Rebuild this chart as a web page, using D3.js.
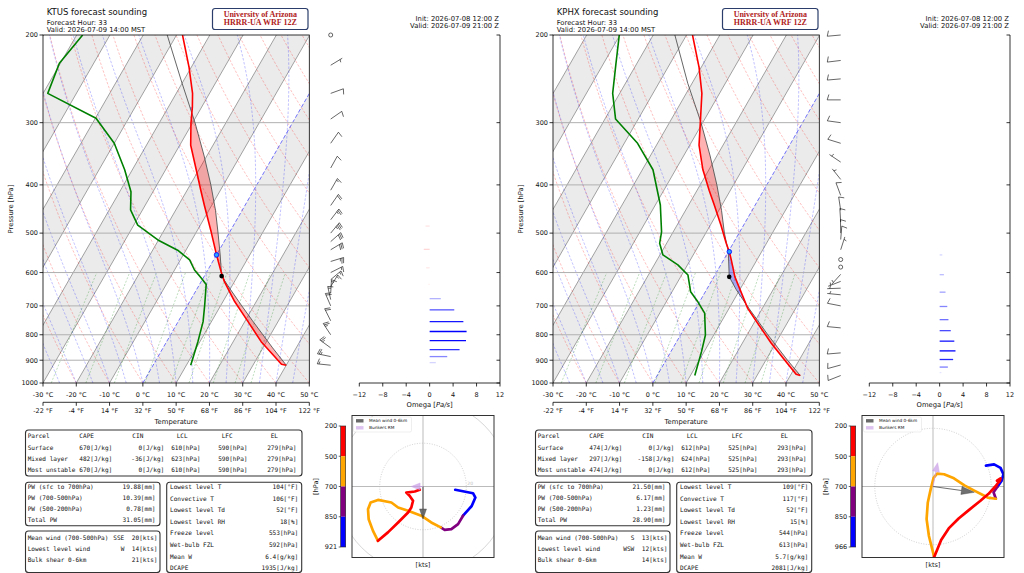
<!DOCTYPE html>
<html lang="en">
<head>
<meta charset="UTF-8">
<title>HRRR-UA forecast soundings</title>
<script src="https://d3js.org/d3.v7.min.js"></script>
<style>
    body { margin: 0; background: #fff; }
    svg { display: block; }
    text { font-family: "DejaVu Sans", sans-serif; fill: #111; }
    .mono { font-family: "DejaVu Sans Mono", monospace; }
</style>
</head>
<body>
<svg id="chart" width="1024" height="573"></svg>
<script>
// ---------------- KTUS (left) ----------------
const tusTempP = [921, 917, 885, 826, 753, 686, 626, 598, 553, 497, 439, 410, 373, 333, 301, 279, 262, 232, 200];
const tusTempT = [40.0, 38.4, 35.0, 28.4, 21.0, 13.5, 7.0, 4.3, 0.0, -5.6, -12.3, -15.9, -20.8, -26.7, -30.4, -32.8, -35.1, -40.7, -48.2];
const tusDewP = [921, 826, 753, 697, 634, 616, 593, 566, 541, 516, 482, 449, 413, 373, 330, 294, 262, 228, 200];
const tusDewT = [11.3, 9.4, 7.5, 5.1, 2.0, -0.5, -4.0, -7.2, -12.5, -20.2, -28.8, -33.6, -36.6, -42.3, -50.0, -59.8, -78.6, -80.3, -78.2];
const tusParcelP = [921, 850, 750, 700, 650, 610, 553, 500, 450, 400, 350, 300, 250, 200];
const tusParcelT = [40.0, 32.9, 22.2, 16.4, 10.3, 5.2, 1.1, -3.3, -8.0, -13.8, -20.8, -29.3, -40.0, -52.8];
const tusLcl = [610, 5.2];
const tusFrz = [553, 0.0];
const tusEl = 279;

const tusWindP = [921, 900, 885, 870, 850, 835, 800, 750, 700, 680, 660, 640, 620, 600, 585, 570, 555, 540, 520, 500, 470, 440, 410, 370, 330, 295, 262, 230, 200];
const tusWindU = [14.9, 23.1, 24.2, 22.5, 18.5, 16.2, 13.1, 10.0, 8.2, 3.8, -0.8, -6.9, -11.5, -14.6, -20.8, -24.2, -25.4, -25.1, -23.1, -20.8, -16.2, -11.5, -6.9, -5.4, -4.6, -6.2, -7.7, -3.8, -1.5];
const tusWindV = [-1.5, -3.1, -5.1, -9.0, -13.5, -17.4, -19.7, -20.0, -18.9, -16.6, -13.5, -11.2, -9.7, -7.4, -6.2, -7.4, -10.5, -15.1, -20.5, -25.1, -21.2, -16.6, -12.0, -9.7, -6.6, -4.3, -2.8, -2.3, -1.5];
const tusMeanWind = [0, -15];
const tusBunkers = [-5.5, 0];

const tusOmegaP = [910, 885, 857, 822, 788, 753, 713, 677, 634, 587, 539, 484];
const tusOmega = [1.05, 3.0, 5.1, 6.2, 6.3, 5.75, 4.2, 1.9, -0.2, -0.6, -1.0, -0.7];

const tusParcelRows = [
    ["Surface", "670[J/kg]", "0[J/kg]", "610[hPa]", "590[hPa]", "279[hPa]"],
    ["Mixed layer", "482[J/kg]", "-36[J/kg]", "623[hPa]", "590[hPa]", "279[hPa]"],
    ["Most unstable", "670[J/kg]", "0[J/kg]", "610[hPa]", "590[hPa]", "279[hPa]"]
];
const tusPwRows = [["PW (sfc to 700hPa)", "19.88[mm]"], ["PW (700-500hPa)", "10.39[mm]"], ["PW (500-200hPa)", "0.78[mm]"], ["Total PW", "31.05[mm]"]];
const tusWindRows = [["Mean wind (700-500hPa)", "SSE", "20[kts]"], ["Lowest level wind", "W", "14[kts]"], ["Bulk shear 0-6km", "", "21[kts]"]];
const tusThermoRows = [["Lowest level T", "104[°F]"], ["Convective T", "106[°F]"], ["Lowest level Td", "52[°F]"], ["Lowest level RH", "18[%]"],
    ["Freeze level", "553[hPa]"], ["Wet-bulb FZL", "592[hPa]"], ["Mean W", "6.4[g/kg]"], ["DCAPE", "1935[J/kg]"]];

// ---------------- KPHX (right) ----------------
const phxTempP = [966, 960, 899, 832, 759, 708, 612, 566, 545, 524, 482, 439, 410, 373, 333, 301, 262, 232, 200];
const phxTempT = [43.0, 41.5, 35.6, 28.7, 21.2, 15.6, 6.3, 2.3, 0.3, -2.1, -6.8, -12.3, -16.4, -21.8, -27.2, -30.6, -35.3, -40.7, -48.2];
const phxDewP = [966, 865, 801, 724, 687, 656, 607, 579, 553, 524, 497, 439, 373, 330, 295, 262, 228, 200];
const phxDewT = [11.3, 9.2, 7.5, 3.5, -0.5, -4.4, -8.1, -12.9, -19.1, -22.1, -23.5, -28.5, -36.8, -46.0, -56.8, -62.1, -66.3, -70.2];
const phxParcelP = [966, 900, 850, 800, 750, 700, 650, 612, 545, 500, 450, 400, 350, 300, 250, 200];
const phxParcelT = [43.0, 36.5, 31.5, 26.2, 20.8, 15.0, 9.0, 4.6, 0.0, -4.4, -9.2, -15.0, -22.0, -30.5, -41.3, -53.5];
const phxLcl = [612, 4.6];
const phxFrz = [545, 0.3];
const phxEl = 293;

const phxWindP = [966, 945, 920, 895, 870, 850, 775, 700, 685, 665, 645, 625, 605, 585, 565, 550, 540, 530, 515, 500, 475, 450, 420, 390, 360, 330, 300, 270, 245, 225, 200];
const phxWindU = [9.1, 10.5, 11.6, 12.1, 11.8, 11.1, 10.4, 10.8, 9.4, 7.1, 5.4, 3.6, 1.9, 0.7, 0.1, -0.4, -0.9, -1.1, -0.7, 0.2, 0.7, 1.4, 2.7, 4.4, 6.1, 8.1, 9.5, 10.7, 11.5, 11.6, 11.0];
const phxWindV = [3.6, 3.8, 3.2, 2.1, 1.0, 0.0, -1.0, -2.1, -1.9, -0.7, 0.2, 1.4, 2.1, 2.2, 1.5, -0.5, -2.8, -5.6, -8.5, -12.1, -10.9, -9.2, -7.2, -5.5, -4.1, -2.5, -1.3, 0.0, 1.0, 1.4, 1.0];
const phxMeanWind = [7.1, -1.0];
const phxBunkers = [0.8, 4.1];

const phxOmegaP = [953, 929, 897, 862, 824, 785, 746, 702, 657, 606, 553];
const phxOmega = [0.3, 1.4, 2.3, 2.7, 2.5, 1.9, 1.5, 1.3, 1.0, 0.73, 0.45];

const phxParcelRows = [
    ["Surface", "474[J/kg]", "0[J/kg]", "612[hPa]", "525[hPa]", "293[hPa]"],
    ["Mixed layer", "297[J/kg]", "-158[J/kg]", "624[hPa]", "525[hPa]", "293[hPa]"],
    ["Most unstable", "474[J/kg]", "0[J/kg]", "612[hPa]", "525[hPa]", "293[hPa]"]
];
const phxPwRows = [["PW (sfc to 700hPa)", "21.50[mm]"], ["PW (700-500hPa)", "6.17[mm]"], ["PW (500-200hPa)", "1.23[mm]"], ["Total PW", "28.90[mm]"]];
const phxWindRows = [["Mean wind (700-500hPa)", "S", "13[kts]"], ["Lowest level wind", "WSW", "12[kts]"], ["Bulk shear 0-6km", "", "14[kts]"]];
const phxThermoRows = [["Lowest level T", "109[°F]"], ["Convective T", "117[°F]"], ["Lowest level Td", "52[°F]"], ["Lowest level RH", "15[%]"],
    ["Freeze level", "544[hPa]"], ["Wet-bulb FZL", "613[hPa]"], ["Mean W", "5.7[g/kg]"], ["DCAPE", "2081[J/kg]"]];

// shared labels
const parcelHeader = ["Parcel", "CAPE", "CIN", "LCL", "LFC", "EL"];
const pressureTicks = [200, 300, 400, 500, 600, 700, 800, 900, 1000];
const tempTicks = [-30, -20, -10, 0, 10, 20, 30, 40, 50];
const omegaTicks = [-12, -8, -4, 0, 4, 8, 12];
const hodoLayers = [
    { top: 850, bot: 1100, color: "#0000ff" },
    { top: 700, bot: 850, color: "#800080" },
    { top: 500, bot: 700, color: "#ffa500" },
    { top: 100, bot: 500, color: "#ff0000" }
];

const svg = d3.select("#chart");
svg.append("rect").attr("width", 1024).attr("height", 573).attr("fill", "#fff");

const Y_TOP = 35, Y_BOT = 383, X_L = 43, X_R = 309.3, SKEW = 0.575;
const yP = d3.scaleLog().domain([1000, 200]).range([Y_BOT, Y_TOP]);

function interpLogP(P, T, p) {
    for (let i = 0; i < P.length - 1; i++) {
        if (p <= P[i] && p >= P[i + 1]) {
            const f = (Math.log(P[i]) - Math.log(p)) / (Math.log(P[i]) - Math.log(P[i + 1]));
            return T[i] + f * (T[i + 1] - T[i]);
        }
    }
    return NaN;
}

// moist adiabat from t0 (C) at 1000 hPa, background reference only
function moistAdiabat(t0) {
    const f = (pp, TT) => {
        const tc = TT - 273.15;
        const es = 6.112 * Math.exp(17.67 * tc / (tc + 243.5));
        const rs = 0.622 * es / (pp - es);
        return (287.04 * TT + 2.501e6 * rs) / (pp * (1005.7 + 2.501e6 * 2.501e6 * rs * 0.622 / (287.04 * TT * TT)));
    };
    const pts = [];
    let T = t0 + 273.15;
    for (let p = 1000; p >= 195; p -= 5) {
        pts.push([p, T - 273.15]);
        const k1 = f(p, T);
        const k2 = f(p - 2.5, T - k1 * 2.5);
        T -= k2 * 5;
    }
    return pts;
}

function drawSkewT(ox, st, id) {
    const g = svg.append("g");
    const xT = d3.scaleLinear().domain([-30, 50]).range([X_L + ox, X_R + ox]);
    const X = (t, p) => xT(t) + (Y_BOT - yP(p)) * SKEW;
    const clipId = "clip" + id;
    svg.append("clipPath").attr("id", clipId).append("rect")
        .attr("x", X_L + ox).attr("y", Y_TOP).attr("width", X_R - X_L).attr("height", Y_BOT - Y_TOP);
    const pg = g.append("g").attr("clip-path", `url(#${clipId})`);
    const line = d3.line().x(d => X(d[1], d[0])).y(d => yP(d[0]));

    // shaded isotherm bands
    d3.range(-100, 50, 20).forEach(t => {
        pg.append("path").attr("d", line([[1000, t], [1000, t + 10], [200, t + 10], [200, t]]) + "Z")
            .attr("fill", "#000").attr("fill-opacity", 0.08);
    });
    // isotherms
    d3.range(-100, 60, 10).filter(t => t !== 0).forEach(t => {
        pg.append("path").attr("d", line([[1000, t], [200, t]]))
            .attr("stroke", "#8a8a8a").attr("stroke-width", 0.8).attr("fill", "none");
    });
    // dry adiabats
    const pLevels = d3.range(1000, 195, -10);
    d3.range(-30, 170, 10).forEach(t0 => {
        const pts = pLevels.map(p => [p, (t0 + 273.15) * Math.pow(p / 1000, 0.2857) - 273.15]);
        pg.append("path").attr("d", line(pts)).attr("fill", "none")
            .attr("stroke", "#ff0000").attr("stroke-opacity", 0.38).attr("stroke-width", 0.65).attr("stroke-dasharray", "2.5,1.6");
    });
    // moist adiabats
    d3.range(-30, 55, 5).forEach(t0 => {
        pg.append("path").attr("d", line(moistAdiabat(t0))).attr("fill", "none")
            .attr("stroke", "#0000ff").attr("stroke-opacity", 0.38).attr("stroke-width", 0.65).attr("stroke-dasharray", "2.5,1.6");
    });
    // mixing ratio lines
    [0.4, 1, 2, 4, 7, 10, 16, 24, 32].forEach(w => {
        const pts = d3.range(1000, 595, -20).map(p => {
            const e = (w / 1000) * p / (0.622 + w / 1000);
            const a = Math.log(e / 6.112);
            return [p, 243.5 * a / (17.67 - a)];
        });
        pg.append("path").attr("d", line(pts)).attr("fill", "none")
            .attr("stroke", "#008000").attr("stroke-opacity", 0.4).attr("stroke-width", 0.65).attr("stroke-dasharray", "2,1.6");
    });
    // 0 C isotherm
    pg.append("path").attr("d", line([[1000, 0], [200, 0]])).attr("fill", "none")
        .attr("stroke", "#0000ff").attr("stroke-opacity", 0.6).attr("stroke-width", 0.9).attr("stroke-dasharray", "4,2");
    // isobars
    pressureTicks.slice(1, -1).forEach(p => {
        pg.append("line").attr("x1", X_L + ox).attr("x2", X_R + ox).attr("y1", yP(p)).attr("y2", yP(p))
            .attr("stroke", "#b0b0b0").attr("stroke-width", 1);
    });

    // CAPE / CIN shading between environment and parcel
    const sfc = st.parcelP[0];
    let grid = d3.range(sfc, st.el, -2).concat(st.tempP, st.parcelP, [st.el])
        .filter(p => p <= sfc && p >= st.el);
    grid = Array.from(new Set(grid)).sort((a, b) => b - a);
    const polys = [];
    let cur = null, prev = null;
    grid.forEach(p => {
        const te = interpLogP(st.tempP, st.tempT, p), tp = interpLogP(st.parcelP, st.parcelT, p);
        const d = tp - te, s = d >= 0 ? 1 : -1;
        if (!cur) cur = { s: s, a: [[p, te, tp]] };
        else if (s === cur.s) cur.a.push([p, te, tp]);
        else {
            const dPrev = prev[2] - prev[1];
            const f = dPrev / (dPrev - d);
            const pc = Math.exp(Math.log(prev[0]) + f * (Math.log(p) - Math.log(prev[0])));
            const tc = prev[1] + f * (te - prev[1]);
            cur.a.push([pc, tc, tc]);
            polys.push(cur);
            cur = { s: s, a: [[pc, tc, tc], [p, te, tp]] };
        }
        prev = [p, te, tp];
    });
    if (cur) polys.push(cur);
    polys.forEach(poly => {
        const pts = poly.a.map(d => [d[0], d[1]]).concat(poly.a.slice().reverse().map(d => [d[0], d[2]]));
        pg.append("path").attr("d", line(pts) + "Z")
            .attr("fill", poly.s > 0 ? "#ff0000" : "#0000ff").attr("fill-opacity", 0.3).attr("stroke", "none");
    });

    // profiles
    pg.append("path").attr("d", line(st.parcelP.map((p, i) => [p, st.parcelT[i]])))
        .attr("fill", "none").attr("stroke", "#555").attr("stroke-width", 0.9);
    pg.append("path").attr("d", line(st.tempP.map((p, i) => [p, st.tempT[i]])))
        .attr("fill", "none").attr("stroke", "#ff0000").attr("stroke-width", 1.6).attr("stroke-linejoin", "round");
    pg.append("path").attr("d", line(st.dewP.map((p, i) => [p, st.dewT[i]])))
        .attr("fill", "none").attr("stroke", "#008000").attr("stroke-width", 1.6).attr("stroke-linejoin", "round");
    g.append("circle").attr("cx", X(st.lcl[1], st.lcl[0])).attr("cy", yP(st.lcl[0])).attr("r", 2.3).attr("fill", "#000");
    g.append("circle").attr("cx", X(st.frz[1], st.frz[0])).attr("cy", yP(st.frz[0])).attr("r", 2.3)
        .attr("fill", "#2aa0ff").attr("stroke", "#0000ff").attr("stroke-width", 0.8);

    // frame
    g.append("rect").attr("x", X_L + ox).attr("y", Y_TOP).attr("width", X_R - X_L).attr("height", Y_BOT - Y_TOP)
        .attr("fill", "none").attr("stroke", "#000").attr("stroke-width", 0.8);

    // y axis
    pressureTicks.forEach(p => {
        g.append("line").attr("x1", X_L + ox - 3.5).attr("x2", X_L + ox).attr("y1", yP(p)).attr("y2", yP(p)).attr("stroke", "#000").attr("stroke-width", 0.8);
        g.append("text").attr("x", X_L + ox - 5).attr("y", yP(p) + 2.3).attr("text-anchor", "end").attr("font-size", 6.5).text(p);
    });
    g.append("text").attr("transform", `translate(${13 + ox},${(Y_TOP + Y_BOT) / 2}) rotate(-90)`)
        .attr("text-anchor", "middle").attr("font-size", 6.8).text("Pressure [hPa]");

    // x axes (Celsius and Fahrenheit)
    const yF = 402.3;
    g.append("line").attr("x1", X_L + ox).attr("x2", X_R + ox).attr("y1", yF).attr("y2", yF).attr("stroke", "#000").attr("stroke-width", 0.8);
    tempTicks.forEach(t => {
        const x = xT(t);
        g.append("line").attr("x1", x).attr("x2", x).attr("y1", Y_BOT).attr("y2", Y_BOT + 3.5).attr("stroke", "#000").attr("stroke-width", 0.8);
        g.append("text").attr("x", x).attr("y", 396.5).attr("text-anchor", "middle").attr("font-size", 6.5).text(`${t} °C`);
        g.append("line").attr("x1", x).attr("x2", x).attr("y1", yF).attr("y2", yF + 3.5).attr("stroke", "#000").attr("stroke-width", 0.8);
        g.append("text").attr("x", x).attr("y", 412.5).attr("text-anchor", "middle").attr("font-size", 6.5).text(`${Math.round(t * 9 / 5 + 32)} °F`);
    });
    g.append("text").attr("x", (X_L + X_R) / 2 + ox).attr("y", 423.5).attr("text-anchor", "middle").attr("font-size", 6.8).text("Temperature");
}

function drawBarb(g, bx, by, u, v) {
    const L = 13.5, H = 0.4 * L, W = 0.25 * L, S = 0.125 * L;
    const spd = Math.hypot(u, v);
    const r5 = Math.round(spd / 5) * 5;
    if (r5 < 5) {
        g.append("circle").attr("cx", bx).attr("cy", by).attr("r", 0.15 * L)
            .attr("fill", "none").attr("stroke", "#000").attr("stroke-width", 0.6);
        return;
    }
    const dx = -u / spd, dy = v / spd;
    const px = -dy, py = dx;
    const tx = bx + dx * L, ty = by + dy * L;
    let d = `M${bx},${by}L${tx},${ty}`;
    const nFull = Math.floor(r5 / 10), half = (r5 % 10) >= 5;
    let off = 0;
    for (let i = 0; i < nFull; i++) {
        const sx = tx - dx * off, sy = ty - dy * off;
        d += `M${sx},${sy}L${sx + px * H - dx * W / 2},${sy + py * H - dy * W / 2}`;
        off += S;
    }
    if (half) {
        if (nFull === 0) off = 1.5 * S;
        const sx = tx - dx * off, sy = ty - dy * off;
        d += `M${sx},${sy}L${sx + px * H / 2 - dx * W / 4},${sy + py * H / 2 - dy * W / 4}`;
    }
    g.append("path").attr("d", d).attr("fill", "none").attr("stroke", "#000").attr("stroke-width", 0.6);
}

function drawWindOmega(ox, st) {
    const g = svg.append("g");
    // barbs, thinned so they do not overlap
    let lastY = -100;
    st.windP.forEach((p, i) => {
        const y = yP(p);
        if (Math.abs(y - lastY) < 6) return;
        lastY = y;
        drawBarb(g, 330.7 + ox, y, st.windU[i], st.windV[i]);
    });
    // omega panel
    const xo = d3.scaleLinear().domain([-12, 12]).range([359.3 + ox, 500 + ox]);
    const maxAbs = d3.max(st.omega, d => Math.abs(d));
    st.omegaP.forEach((p, i) => {
        const w = st.omega[i];
        g.append("line").attr("x1", xo(0)).attr("x2", xo(w)).attr("y1", yP(p)).attr("y2", yP(p))
            .attr("stroke", w >= 0 ? "#0000ff" : "#ff0000").attr("stroke-width", 1.3)
            .attr("stroke-opacity", Math.max(0.08, Math.abs(w) / maxAbs));
    });
    g.append("line").attr("x1", 500 + ox).attr("x2", 500 + ox).attr("y1", Y_TOP).attr("y2", Y_BOT).attr("stroke", "#000").attr("stroke-width", 0.8);
    g.append("line").attr("x1", 359.3 + ox).attr("x2", 500 + ox).attr("y1", Y_BOT).attr("y2", Y_BOT).attr("stroke", "#000").attr("stroke-width", 0.8);
    pressureTicks.forEach(p => {
        g.append("line").attr("x1", 496.5 + ox).attr("x2", 500 + ox).attr("y1", yP(p)).attr("y2", yP(p)).attr("stroke", "#000").attr("stroke-width", 0.8);
    });
    omegaTicks.forEach(t => {
        g.append("line").attr("x1", xo(t)).attr("x2", xo(t)).attr("y1", Y_BOT).attr("y2", Y_BOT + 3.5).attr("stroke", "#000").attr("stroke-width", 0.8);
        g.append("text").attr("x", xo(t)).attr("y", 396.5).attr("text-anchor", "middle").attr("font-size", 6.5)
            .text(t < 0 ? "\u2212" + Math.abs(t) : t);
    });
    const lab = g.append("text").attr("x", xo(0)).attr("y", 406.5).attr("text-anchor", "middle").attr("font-size", 6.8);
    lab.append("tspan").text("Omega [");
    lab.append("tspan").attr("font-style", "italic").text("Pa/s");
    lab.append("tspan").text("]");
}

function arrow(g, x0, y0, x1, y1, color, op, hl, hw) {
    const len = Math.hypot(x1 - x0, y1 - y0), ux = (x1 - x0) / len, uy = (y1 - y0) / len;
    const bx = x1 - ux * hl, by = y1 - uy * hl;
    g.append("line").attr("x1", x0).attr("y1", y0).attr("x2", bx).attr("y2", by)
        .attr("stroke", color).attr("stroke-opacity", op).attr("stroke-width", 1.2);
    g.append("path").attr("d", `M${x1},${y1}L${bx - uy * hw / 2},${by + ux * hw / 2}L${bx + uy * hw / 2},${by - ux * hw / 2}Z`)
        .attr("fill", color).attr("fill-opacity", op).attr("stroke", color).attr("stroke-opacity", op).attr("stroke-width", 0.5);
}

function drawHodo(ox, st, id) {
    const g = svg.append("g");
    const bx = 352 + ox, by = 415.5, bw = 142, bh = 142;
    const cx = bx + bw / 2, cy = by + bh / 2, k = (bw / 2) / st.hodoR;
    const clipId = "hclip" + id;
    svg.append("clipPath").attr("id", clipId).append("rect").attr("x", bx).attr("y", by).attr("width", bw).attr("height", bh);
    const pg = g.append("g").attr("clip-path", `url(#${clipId})`);
    pg.append("line").attr("x1", bx).attr("x2", bx + bw).attr("y1", cy).attr("y2", cy).attr("stroke", "#aaa").attr("stroke-width", 0.8);
    pg.append("line").attr("x1", cx).attr("x2", cx).attr("y1", by).attr("y2", by + bh).attr("stroke", "#aaa").attr("stroke-width", 0.8);
    st.rings.forEach((r, i) => {
        pg.append("circle").attr("cx", cx).attr("cy", cy).attr("r", r * k).attr("fill", "none")
            .attr("stroke", i === 0 ? "#bbb" : "#c4c4c4").attr("stroke-width", 0.7)
            .attr("stroke-dasharray", i === 0 ? "1,1.5" : null);
    });
    if (st.ringLabel) {
        pg.append("text").attr("x", cx + st.rings[0] * k + 1).attr("y", cy - 1.5).attr("font-size", 4.5)
            .style("fill", "#bbb").text(st.rings[0]);
    }
    const hx = d3.scaleLinear().domain([-st.hodoR, st.hodoR]).range([bx, bx + bw]);
    const hy = d3.scaleLinear().domain([-st.hodoR, st.hodoR]).range([by + bh, by]);
    const hl = d3.line().x(d => hx(d[0])).y(d => hy(d[1]));
    hodoLayers.forEach(layer => {
        const pts = [];
        st.windP.forEach((p, i) => { if (p <= layer.bot && p >= layer.top) pts.push([st.windU[i], st.windV[i]]); });
        pg.append("path").attr("d", hl(pts)).attr("fill", "none").attr("stroke", layer.color)
            .attr("stroke-width", 2.7).attr("stroke-linecap", "round").attr("stroke-linejoin", "round");
    });
    arrow(pg, cx, cy, hx(st.meanWind[0]), hy(st.meanWind[1]), "#333", 0.7, st.headL, st.headW);
    arrow(pg, cx, cy, hx(st.bunkers[0]), hy(st.bunkers[1]), "#c79be6", 0.7, 9, 7);
    g.append("rect").attr("x", bx).attr("y", by).attr("width", bw).attr("height", bh)
        .attr("fill", "none").attr("stroke", "#333").attr("stroke-width", 1);
    // legend
    g.append("rect").attr("x", bx + 1.5).attr("y", by + 1.5).attr("width", 58).attr("height", 15).attr("rx", 1.5)
        .attr("fill", "#fff").attr("fill-opacity", 0.85).attr("stroke", "#ddd").attr("stroke-width", 0.5);
    g.append("rect").attr("x", bx + 4).attr("y", by + 3.6).attr("width", 7.5).attr("height", 3.4).attr("fill", "#444").attr("fill-opacity", 0.8);
    g.append("text").attr("x", bx + 17).attr("y", by + 6.8).attr("font-size", 4.3).text("Mean wind 0-6km");
    g.append("rect").attr("x", bx + 4).attr("y", by + 10.6).attr("width", 7.5).attr("height", 3.4).attr("fill", "#c79be6").attr("fill-opacity", 0.6);
    g.append("text").attr("x", bx + 17).attr("y", by + 13.8).attr("font-size", 4.3).text("Bunkers RM");
    g.append("text").attr("x", cx).attr("y", 566.5).attr("text-anchor", "middle").attr("font-size", 6.5).text("[kts]");
    // colorbar
    const cbx = 340.7 + ox, cbTop = 426, cbBot = 547, segH = (cbBot - cbTop) / 4;
    ["#ff0000", "#ffa500", "#800080", "#0000ff"].forEach((c, i) => {
        g.append("rect").attr("x", cbx).attr("y", cbTop + i * segH).attr("width", 5).attr("height", segH).attr("fill", c);
    });
    g.append("rect").attr("x", cbx).attr("y", cbTop).attr("width", 5).attr("height", cbBot - cbTop)
        .attr("fill", "none").attr("stroke", "#222").attr("stroke-width", 0.6);
    st.cbLabels.forEach((lbl, i) => {
        const y = cbTop + i * segH;
        g.append("line").attr("x1", cbx - 2).attr("x2", cbx).attr("y1", y).attr("y2", y).attr("stroke", "#000").attr("stroke-width", 0.6);
        g.append("text").attr("x", cbx - 3.5).attr("y", y + 2.3).attr("text-anchor", "end").attr("font-size", 6.5).text(lbl);
    });
    g.append("text").attr("transform", `translate(${317.5 + ox},${(cbTop + cbBot) / 2}) rotate(-90)`)
        .attr("text-anchor", "middle").attr("font-size", 6.5).text("[hPa]");
}

function box(g, x, y, w, h) {
    g.append("rect").attr("x", x).attr("y", y).attr("width", w).attr("height", h).attr("rx", 3)
        .attr("fill", "none").attr("stroke", "#333").attr("stroke-width", 1.1);
}

function drawTables(ox, st) {
    const g = svg.append("g").attr("class", "mono");
    const fs = 6.1;
    const txt = (x, y, s, anchor) => g.append("text").attr("class", "mono").attr("x", x + ox).attr("y", y)
        .attr("font-size", fs).attr("text-anchor", anchor || "start").text(s);
    // parcel table
    box(g, 25.5 + ox, 430, 276.5, 46);
    const hdrX = [27.7, 79.3, 132.3, 176.7, 221.7, 270.7];
    const valEnd = [112.3, 164.3, 200.5, 247.5, 296.5];
    parcelHeader.forEach((h, i) => txt(hdrX[i], 437.5, h));
    st.parcelRows.forEach((row, r) => {
        const y = 449.5 + r * 11;
        txt(27.7, y, row[0]);
        row.slice(1).forEach((v, i) => txt(valEnd[i], y, v, "end"));
    });
    // precipitable water
    box(g, 25.5 + ox, 482.3, 134.5, 43.4);
    st.pwRows.forEach((row, r) => {
        const y = 488.9 + r * 10.9;
        txt(27.7, y, row[0]);
        txt(155.5, y, row[1], "end");
    });
    // wind
    box(g, 25.5 + ox, 531, 134.5, 41.5);
    st.windRows.forEach((row, r) => {
        const y = 539.5 + r * 11.3;
        txt(27.7, y, row[0]);
        txt(124.3, y, row[1], "end");
        txt(157.5, y, row[2], "end");
    });
    // thermo
    box(g, 166.7 + ox, 482.3, 135, 90.2);
    st.thermoRows.forEach((row, r) => {
        const y = 488.9 + r * 11.6;
        txt(170, y, row[0]);
        txt(298.3, y, row[1], "end");
    });
}

function drawHeader(ox, st) {
    const g = svg.append("g");
    g.append("text").attr("x", 46.7 + ox).attr("y", 15).attr("font-size", 8.5).text(st.title);
    g.append("text").attr("x", 46.7 + ox).attr("y", 24.6).attr("font-size", 6.8).text("Forecast Hour: 33");
    g.append("text").attr("x", 46.7 + ox).attr("y", 32.3).attr("font-size", 6.8).text(st.valid);
    g.append("rect").attr("x", 212.5 + ox).attr("y", 8.5).attr("width", 95.5).attr("height", 21).attr("rx", 2.5)
        .attr("fill", "#fff").attr("stroke", "#2b3e6b").attr("stroke-width", 1.2);
    [["University of Arizona", 16.9], ["HRRR-UA WRF 12Z", 25.3]].forEach(d => {
        g.append("text").attr("x", 260.3 + ox).attr("y", d[1]).attr("text-anchor", "middle")
            .attr("font-size", 8).attr("font-weight", "bold").style("font-family", "'Liberation Serif', 'DejaVu Serif', serif")
            .style("fill", "#b01c22").text(d[0]);
    });
    g.append("text").attr("x", 499 + ox).attr("y", 20.5).attr("text-anchor", "end").attr("font-size", 6.8).text("Init: 2026-07-08 12:00 Z");
    g.append("text").attr("x", 499 + ox).attr("y", 28).attr("text-anchor", "end").attr("font-size", 6.8).text("Valid: 2026-07-09 21:00 Z");
}

const stations = [
    {
        ox: 0, id: "tus", title: "KTUS forecast sounding", valid: "Valid: 2026-07-09 14:00 MST",
        tempP: tusTempP, tempT: tusTempT, dewP: tusDewP, dewT: tusDewT, parcelP: tusParcelP, parcelT: tusParcelT,
        lcl: tusLcl, frz: tusFrz, el: tusEl,
        windP: tusWindP, windU: tusWindU, windV: tusWindV, meanWind: tusMeanWind, bunkers: tusBunkers,
        omegaP: tusOmegaP, omega: tusOmega,
        hodoR: 32.8, rings: [20, 40], ringLabel: true, headL: 10, headW: 7, cbLabels: [200, 500, 700, 850, 921],
        parcelRows: tusParcelRows, pwRows: tusPwRows, windRows: tusWindRows, thermoRows: tusThermoRows
    },
    {
        ox: 510, id: "phx", title: "KPHX forecast sounding", valid: "Valid: 2026-07-09 14:00 MST",
        tempP: phxTempP, tempT: phxTempT, dewP: phxDewP, dewT: phxDewT, parcelP: phxParcelP, parcelT: phxParcelT,
        lcl: phxLcl, frz: phxFrz, el: phxEl,
        windP: phxWindP, windU: phxWindU, windV: phxWindV, meanWind: phxMeanWind, bunkers: phxBunkers,
        omegaP: phxOmegaP, omega: phxOmega,
        hodoR: 12.2, rings: [10], ringLabel: false, headL: 13, headW: 8, cbLabels: [200, 500, 700, 850, 966],
        parcelRows: phxParcelRows, pwRows: phxPwRows, windRows: phxWindRows, thermoRows: phxThermoRows
    }
];

stations.forEach(st => {
    drawSkewT(st.ox, st, st.id);
    drawWindOmega(st.ox, st);
    drawHodo(st.ox, st, st.id);
    drawTables(st.ox, st);
    drawHeader(st.ox, st);
});
</script>
</body>
</html>
